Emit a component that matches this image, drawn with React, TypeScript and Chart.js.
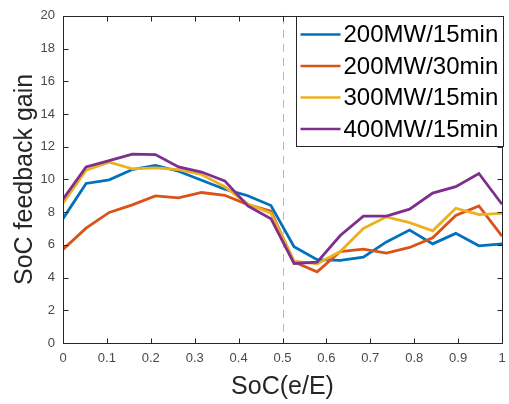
import React, { useEffect, useRef } from 'react';
import { Chart, registerables } from 'chart.js';

Chart.register(...registerables);

const socValues = [0, 0.0526, 0.1053, 0.1579, 0.2105, 0.2632, 0.3158, 0.3684, 0.4211, 0.4737, 0.5263, 0.5789, 0.6316, 0.6842, 0.7368, 0.7895, 0.8421, 0.8947, 0.9474, 1];
const seriesLabels = ['200MW/15min', '200MW/30min', '300MW/15min', '400MW/15min'];
const gain200_15 = [7.6, 9.75, 9.97, 10.6, 10.85, 10.5, 9.95, 9.4, 9.0, 8.4, 5.88, 5.09, 5.05, 5.25, 6.18, 6.9, 6.06, 6.7, 5.94, 6.06];
const gain200_30 = [5.72, 7.02, 7.98, 8.44, 8.99, 8.87, 9.2, 9.03, 8.46, 8.06, 4.95, 4.35, 5.59, 5.74, 5.49, 5.84, 6.43, 7.8, 8.38, 6.53];
const gain300_15 = [8.54, 10.56, 11.05, 10.64, 10.7, 10.6, 10.3, 9.55, 8.5, 7.94, 5.0, 4.84, 5.59, 7.0, 7.71, 7.36, 6.86, 8.24, 7.85, 7.92];
const gain400_15 = [8.79, 10.76, 11.15, 11.54, 11.52, 10.76, 10.45, 9.91, 8.38, 7.6, 4.86, 4.94, 6.57, 7.75, 7.75, 8.18, 9.16, 9.56, 10.36, 8.48];
const seriesColors = ['#0072BD', '#D95319', '#EDB120', '#7E2F8E'];
const referenceSoC = 0.5;
const xMin = 0, xMax = 1, xStep = 0.1;
const yMin = 0, yMax = 20, yStep = 2;

const FONT = "'Liberation Sans', Arial, Helvetica, sans-serif";

const matlabPlugin = {
  id: 'matlabAxes',
  beforeDatasetsDraw(chart: any) {
    const { ctx, chartArea, scales } = chart;
    const x = Math.round(scales.x.getPixelForValue(referenceSoC)) + 0.5;
    ctx.save();
    ctx.strokeStyle = '#a9c49c';
    ctx.lineWidth = 1;
    ctx.setLineDash([8, 6]);
    ctx.beginPath();
    ctx.moveTo(x, chartArea.top);
    ctx.lineTo(x, chartArea.bottom);
    ctx.stroke();
    ctx.restore();
  },
  afterDraw(chart: any) {
    const { ctx, chartArea, scales } = chart;
    const l = Math.round(chartArea.left) + 0.5;
    const r = Math.round(chartArea.right) + 0.5;
    const t = Math.round(chartArea.top) + 0.5;
    const b = Math.round(chartArea.bottom) + 0.5;
    ctx.save();
    ctx.strokeStyle = '#262626';
    ctx.lineWidth = 1;
    ctx.strokeRect(l, t, r - l, b - t);
    const tl = 5;
    ctx.beginPath();
    scales.x.ticks.forEach((tk: any) => {
      const px = Math.round(scales.x.getPixelForValue(tk.value)) + 0.5;
      ctx.moveTo(px, b);
      ctx.lineTo(px, b - tl);
      ctx.moveTo(px, t);
      ctx.lineTo(px, t + tl);
    });
    scales.y.ticks.forEach((tk: any) => {
      const py = Math.round(scales.y.getPixelForValue(tk.value)) + 0.5;
      ctx.moveTo(l, py);
      ctx.lineTo(l + tl, py);
      ctx.moveTo(r, py);
      ctx.lineTo(r - tl, py);
    });
    ctx.stroke();

    // legend box in the top-right corner
    const boxW = 207;
    const boxH = 130;
    const bx = r + 1 - boxW;
    const by = t;
    ctx.fillStyle = '#ffffff';
    ctx.fillRect(bx, by, boxW, boxH);
    ctx.strokeStyle = '#262626';
    ctx.strokeRect(bx, by, boxW, boxH);
    ctx.font = `24px ${FONT}`;
    ctx.textBaseline = 'middle';
    ctx.textAlign = 'left';
    chart.data.datasets.forEach((ds: any, i: number) => {
      const ry = by + 18 + i * 31.5;
      ctx.strokeStyle = ds.borderColor;
      ctx.lineWidth = 2.5;
      ctx.beginPath();
      ctx.moveTo(bx + 4, ry);
      ctx.lineTo(bx + 44, ry);
      ctx.stroke();
      ctx.fillStyle = '#000000';
      ctx.fillText(ds.label, bx + 47, ry + 1);
    });
    ctx.restore();
  },
};

export default function App() {
  const ref = useRef<HTMLCanvasElement | null>(null);
  useEffect(() => {
    if (!ref.current) return;
    const series = [gain200_15, gain200_30, gain300_15, gain400_15];
    const chart = new Chart(ref.current, {
      type: 'line',
      data: {
        datasets: series.map((vals, i) => ({
          label: seriesLabels[i],
          data: vals.map((v, j) => ({ x: socValues[j], y: v })),
          borderColor: seriesColors[i],
          backgroundColor: seriesColors[i],
          borderWidth: 2.8,
          pointRadius: 0,
          tension: 0,
          fill: false,
          order: series.length - i,
        })),
      },
      options: {
        responsive: false,
        animation: false,
        layout: { padding: { top: 4, right: 7, left: 0, bottom: 0 } },
        plugins: { legend: { display: false }, tooltip: { enabled: false } },
        scales: {
          x: {
            type: 'linear',
            min: xMin,
            max: xMax,
            ticks: {
              stepSize: xStep,
              padding: 8,
              color: '#4a4a4a',
              font: { family: FONT, size: 13 },
              maxRotation: 0,
              callback: (v: any) => String(Number(Number(v).toFixed(1))),
            },
            grid: { display: false, drawTicks: false },
            border: { display: false },
            title: { display: true, text: 'SoC(e/E)', color: '#262626', font: { family: FONT, size: 25 }, padding: { top: 0, bottom: 2 } },
            afterFit: (s: any) => { s.height = 61; s.paddingRight = 0; },
          },
          y: {
            type: 'linear',
            min: yMin,
            max: yMax,
            ticks: { stepSize: yStep, padding: 8, color: '#4a4a4a', font: { family: FONT, size: 13 } },
            grid: { display: false, drawTicks: false },
            border: { display: false },
            title: { display: true, text: 'SoC feedback gain', color: '#262626', font: { family: FONT, size: 25 }, padding: { top: 10, bottom: 0 } },
            afterFit: (s: any) => { s.width = 63; },
          },
        },
      },
      plugins: [matlabPlugin],
    });
    return () => chart.destroy();
  }, []);
  return (
    <div style={{ position: 'fixed', left: 0, top: 0, width: 509, height: 404, background: '#ffffff' }}>
      <canvas ref={ref} width={509} height={404} style={{ display: 'block' }} />
    </div>
  );
}
